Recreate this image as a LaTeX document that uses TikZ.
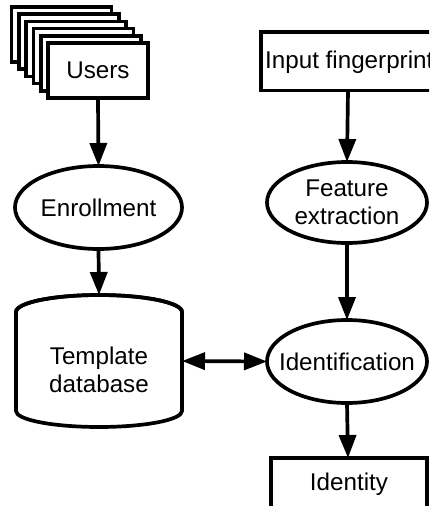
\documentclass[tikz,border=0pt]{standalone}
\usepackage{fontspec}
\setmainfont{Liberation Sans}
\usetikzlibrary{arrows.meta}
\begin{document}
\begin{tikzpicture}[x=1pt,y=-1pt,
  every node/.style={font=\fontsize{24.2}{27.5}\selectfont, align=center},
  box/.style={draw, line width=3.7pt, fill=white},
  frame/.style={inner sep=0pt, outer sep=0pt},
  rim/.style={line width=3.7pt, fill=white},
  flow/.style={line width=3.7pt, -{Triangle[length=23pt,width=17pt]}},
  both/.style={line width=3.7pt, {Triangle[length=23pt,width=17pt]}-{Triangle[length=23pt,width=17pt]}}]
\useasboundingbox (0,0) rectangle (429,506);
\clip (0,0) rectangle (429,506);

% stack of user cards, back to front
\foreach \k in {5,4,3,2,1} {
  \draw[box] (48-7.3*\k, 43-7.2*\k) rectangle (148-7.3*\k, 98-7.2*\k);
}
\node[box, minimum width=100pt, minimum height=55pt, inner sep=0pt] (users) at (98,70.5) {Users};

% enrollment
\node[frame, minimum width=167pt, minimum height=83pt] (enroll) at (98.5,207.5) {};
\draw[rim] (enroll.center) ellipse[x radius=83.5pt, y radius=41.5pt];
\node at (enroll) {Enrollment};

% template database as a cylinder
\node[frame, minimum width=166pt, minimum height=132pt] (db) at (99,361) {};
\draw[rim]
  ([yshift=-17pt]db.north west) -- ([yshift=16pt]db.south west)
  arc[start angle=180, end angle=360, x radius=83pt, y radius=16pt]
  -- ([yshift=-17pt]db.north east)
  arc[start angle=0, end angle=180, x radius=83pt, y radius=17pt] -- cycle;
\draw[line width=3.7pt] ([yshift=-17pt]db.north west)
  arc[start angle=180, end angle=360, x radius=83pt, y radius=-17pt];
\node (dbtext) at (99,370) {Template\\database};

% right column
\draw[box] (261,32) rectangle (445,90.5);
\node[anchor=west, inner sep=0pt] (input) at (265,62) {Input fingerprint};
\coordinate (inbottom) at (348,90.5);

\node[frame, minimum width=160pt, minimum height=81pt] (feat) at (347,202.5) {};
\draw[rim] (feat.center) ellipse[x radius=80pt, y radius=40.5pt];
\node at (feat) {Feature\\extraction};

\node[frame, minimum width=160pt, minimum height=83pt] (ident) at (347,361.5) {};
\draw[rim] (ident.center) ellipse[x radius=80pt, y radius=41.5pt];
\node at (ident) {Identification};

\draw[box] (271,458) rectangle (427,530);
\node (identity) at (349,484) {Identity};
\coordinate (idtop) at (348,458);

% connectors
\draw[flow] (users.south) -- (enroll.north);
\draw[flow] (enroll.south) -- (db.north);
\draw[flow] (inbottom) -- (feat.north);
\draw[flow] (feat.south) -- (ident.north);
\draw[flow] (ident.south) -- (idtop);
\draw[both] (db.east) -- (ident.west);
\end{tikzpicture}
\end{document}
